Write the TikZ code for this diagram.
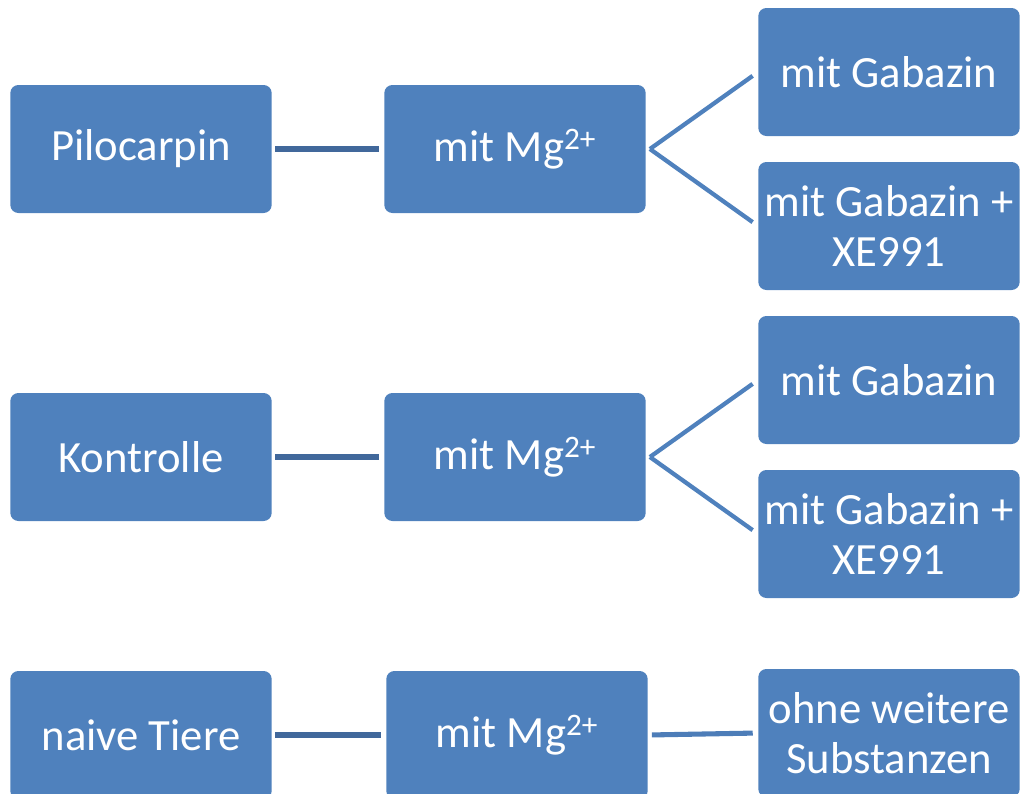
\documentclass[tikz,border=0pt]{standalone}
\usepackage{fontspec}
\setmainfont{Carlito}
\usepackage{xcolor}
\usepackage{tikz}
\usetikzlibrary{positioning}

\definecolor{boxblue}{HTML}{4F81BD}
\definecolor{linkblue}{HTML}{41689B}

\begin{document}
\begin{tikzpicture}[
    x=0.75pt, y=-0.75pt,
    box/.style={draw=none, fill=boxblue, rounded corners=6pt, minimum width=196pt, minimum height=96pt, inner sep=0pt,
        text=white, font=\fontsize{33.5}{37}\selectfont, align=center},
    link/.style={draw=linkblue, line width=3.8pt, shorten <=2.5pt, shorten >=3.5pt},
    fork/.style={draw=boxblue, line width=3.2pt, shorten >=5pt},
]
\useasboundingbox (0,0) rectangle (1020,793);
% row 1
\node[box] (pilo) at (141,149) {Pilocarpin};
\node[box] (mgA) at (515,149) {mit Mg\textsuperscript{2+}};
\node[box] (gabA) at (889,72) {mit Gabazin};
\node[box] (gabxeA) at (889,226) {mit Gabazin +\\XE991};
% row 2
\node[box] (kon) at (141,457) {Kontrolle};
\node[box] (mgB) at (515,457) {mit Mg\textsuperscript{2+}};
\node[box] (gabB) at (889,380) {mit Gabazin};
\node[box] (gabxeB) at (889,534) {mit Gabazin +\\XE991};
% row 3
\node[box] (naive) at (141,735) {naive Tiere};
\node[box] (mgC) at (517,735) {mit Mg\textsuperscript{2+}};
\node[box] (ohne) at (889,733) {ohne weitere\\Substanzen};
% connectors
\coordinate (forkA) at ([xshift=3pt]mgA.east);
\coordinate (forkB) at ([xshift=3pt]mgB.east);
\draw[link] (pilo) -- (mgA);
\draw[link] (kon) -- (mgB);
\draw[link] (naive.east) -- (mgC.west);
\draw[fork] (forkA) -- (gabA.west);
\draw[fork] (forkA) -- (gabxeA.west);
\draw[fork] (forkB) -- (gabB.west);
\draw[fork] (forkB) -- (gabxeB.west);
\draw[link, draw=boxblue!85!linkblue, shorten <=3pt, shorten >=4pt] (mgC.east) -- (ohne.west);
\end{tikzpicture}
\end{document}
